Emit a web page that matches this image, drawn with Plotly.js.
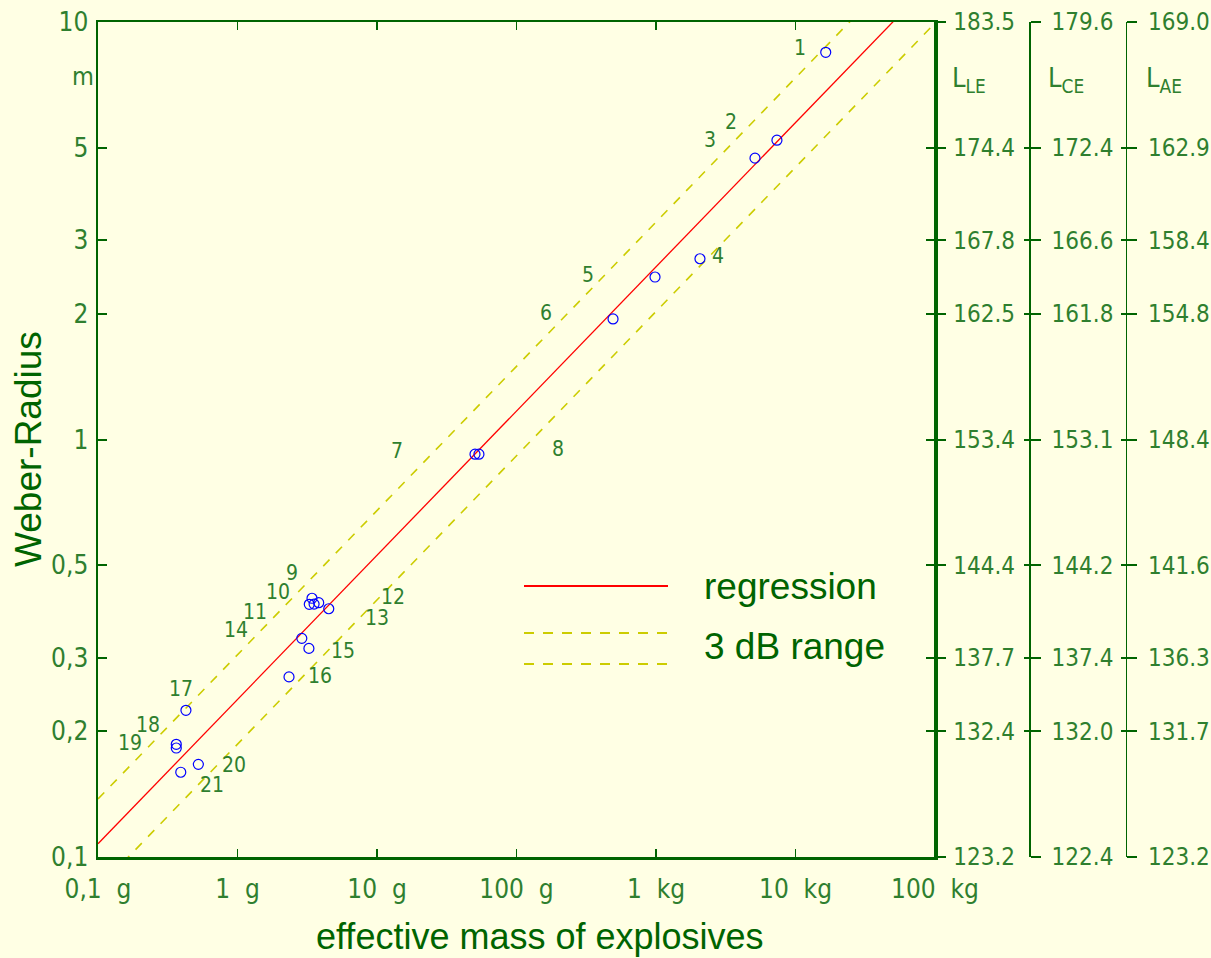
<!DOCTYPE html>
<html>
<head>
<meta charset="utf-8">
<script src="https://cdn.plot.ly/plotly-3.0.1.min.js"></script>
<style>
  html, body { margin: 0; padding: 0; background: #ffffe4; }
  #chart { width: 1211px; height: 958px; }
</style>
</head>
<body>
<div id="chart"></div>
<script>
// ---- data ----
const massTicks = [0.1, 1, 10, 100, 1000, 10000, 100000];
const massTickText = ['0,1\u00a0\u00a0g', '1\u00a0\u00a0g', '10\u00a0\u00a0g', '100\u00a0\u00a0g', '1\u00a0\u00a0kg', '10\u00a0\u00a0kg', '100\u00a0\u00a0kg'];
const radiusTicks = [0.1, 0.2, 0.3, 0.5, 1, 2, 3, 5, 10];
const radiusTickText = ['0,1', '0,2', '0,3', '0,5', '1', '2', '3', '5', '10'];
const levelLE = ['123.2', '132.4', '137.7', '144.4', '153.4', '162.5', '167.8', '174.4', '183.5'];
const levelCE = ['122.4', '132.0', '137.4', '144.2', '153.1', '161.8', '166.6', '172.4', '179.6'];
const levelAE = ['123.2', '131.7', '136.3', '141.6', '148.4', '154.8', '158.4', '162.9', '169.0'];

// measured events (mass in g, Weber radius in m)
const eventMass   = [16470, 7360, 5125, 2066, 984, 492, 50.4, 53.8,
                     3.42, 3.27, 3.54, 3.82, 4.51, 2.89, 3.25, 2.34,
                     0.427, 0.364, 0.364, 0.524, 0.392];
const eventRadius = [8.46, 5.21, 4.72, 2.71, 2.45, 1.944, 0.922, 0.922,
                     0.4166, 0.403, 0.4034, 0.4065, 0.3932, 0.334, 0.316, 0.270,
                     0.2246, 0.1862, 0.1824, 0.1667, 0.1596];

// event numbers and where they are written
const labelText   = ['1','2','3','4','5','6','7','8','9','10','11','12','13','14','15','16','17','18','19','20','21'];
const labelMass   = [10770, 3450, 2438, 2782, 325.5, 162.8, 13.9, 198.3, 2.46, 1.95, 1.335, 13.02, 10.0, 0.975, 5.71, 3.90, 0.3936, 0.2283, 0.1696, 0.944, 0.656];
const labelRadius = [8.57, 5.70, 5.16, 2.72, 2.45, 1.987, 0.928, 0.938, 0.4737, 0.4266, 0.382, 0.415, 0.3696, 0.346, 0.308, 0.2684, 0.2498, 0.2048, 0.1854, 0.1643, 0.1471];

// regression line and 3 dB range (end values)
const lineMass      = [0.1, 100000];
const regression    = [0.1076, 12.72];
const rangeUpper    = [0.1377, 16.28];
const rangeLower    = [0.0841, 9.94];

// ---- styles ----
const BG = '#ffffe4';
const DARK = '#006400';
const TICKC = '#2f7f2f';
const NARROW = "'Liberation Sans Narrow', 'DejaVu Sans Condensed', 'Arial Narrow', sans-serif";
const SANS = "'Liberation Sans', Arial, sans-serif";

const plotW = 837, L = 98, R = 60, W = 1211;
const paperW = W - L - R;
const xEnd = plotW / paperW;
const posCE = (1029.3 - L) / paperW;
const posAE = (1125.7 - L) / paperW;

const traces = [
  { x: lineMass, y: regression, mode: 'lines', line: { color: '#ff0000', width: 1.3 }, hoverinfo: 'skip', showlegend: false },
  { x: lineMass, y: rangeUpper, mode: 'lines', line: { color: '#cccc00', width: 1.6, dash: '9px,9px' }, hoverinfo: 'skip', showlegend: false },
  { x: lineMass, y: rangeLower, mode: 'lines', line: { color: '#cccc00', width: 1.6, dash: '9px,9px' }, hoverinfo: 'skip', showlegend: false },
  { x: eventMass, y: eventRadius, mode: 'markers', marker: { symbol: 'circle-open', size: 10, color: '#0000ff', line: { width: 1.2, color: '#0000ff' } }, showlegend: false },
  { x: labelMass, y: labelRadius, mode: 'text', text: labelText, textposition: 'middle center', textfont: { family: NARROW, size: 21, color: TICKC }, cliponaxis: false, hoverinfo: 'skip', showlegend: false }
];
// anchor traces for the level axes
['y2', 'y3', 'y4', 'y5', 'y6'].forEach(function (ya) {
  traces.push({ x: [massTicks[0]], y: [radiusTicks[0]], yaxis: ya, mode: 'markers', marker: { opacity: 0, size: 1 }, hoverinfo: 'skip', showlegend: false });
});

const yr = [-1, 1];
function levelAxis(pos, text, ticks, len, lw, showLabels, standoff) {
  return {
    type: 'log', range: yr, autorange: false, overlaying: 'y', anchor: 'free', side: 'right', position: pos,
    showgrid: false, zeroline: false, showline: true, linecolor: DARK, linewidth: lw,
    tickmode: 'array', tickvals: radiusTicks, ticktext: text, ticks: ticks, ticklen: len, tickwidth: 2, tickcolor: DARK,
    showticklabels: showLabels, ticklabelstandoff: standoff,
    tickfont: { family: NARROW, size: 24, color: TICKC }
  };
}

const layout = {
  width: W, height: 958,
  paper_bgcolor: BG, plot_bgcolor: BG,
  margin: { l: L, r: R, t: 22, b: 101 },
  showlegend: false,
  xaxis: {
    type: 'log', range: [-1, 5], autorange: false, domain: [0, xEnd],
    showgrid: false, zeroline: false, showline: true, linecolor: DARK, linewidth: 2.5, mirror: 'ticks',
    tickmode: 'array', tickvals: massTicks, ticktext: massTickText,
    ticks: 'inside', ticklen: 8, tickwidth: 1.5, tickcolor: DARK, ticklabelstandoff: 7,
    tickfont: { family: NARROW, size: 26, color: TICKC }
  },
  yaxis: {
    type: 'log', range: yr, autorange: false,
    showgrid: false, zeroline: false, showline: true, linecolor: DARK, linewidth: 2.5, mirror: 'ticks',
    tickmode: 'array', tickvals: radiusTicks, ticktext: radiusTickText,
    ticks: 'inside', ticklen: 9, tickwidth: 2, tickcolor: DARK, ticklabelstandoff: 2,
    tickfont: { family: NARROW, size: 26, color: TICKC }
  },
  yaxis2: levelAxis(xEnd, levelLE, 'outside', 9, 2.5, true, 3),
  yaxis3: levelAxis(posCE, levelCE, 'outside', 10, 1.5, true, 6),
  yaxis4: levelAxis(posAE, levelAE, 'outside', 10, 1.5, true, 6),
  yaxis5: levelAxis(posCE, levelCE, 'inside', 5, 1.5, false, 0),
  yaxis6: levelAxis(posAE, levelAE, 'inside', 5, 1.5, false, 0),
  shapes: [
    { type: 'line', xref: 'paper', yref: 'paper', x0: (524 - L) / paperW, x1: (668 - L) / paperW, y0: (857 - 586) / 835, y1: (857 - 586) / 835, line: { color: '#ff0000', width: 2 } },
    { type: 'line', xref: 'paper', yref: 'paper', x0: (524 - L) / paperW, x1: (668 - L) / paperW, y0: (857 - 633) / 835, y1: (857 - 633) / 835, line: { color: '#cccc00', width: 2, dash: '10px,9px' } },
    { type: 'line', xref: 'paper', yref: 'paper', x0: (524 - L) / paperW, x1: (668 - L) / paperW, y0: (857 - 664) / 835, y1: (857 - 664) / 835, line: { color: '#cccc00', width: 2, dash: '10px,9px' } }
  ],
  annotations: [
    { text: 'Weber-Radius', xref: 'paper', yref: 'paper', x: (28 - L) / paperW, y: (857 - 449) / 835, textangle: -90, showarrow: false, xanchor: 'center', yanchor: 'middle', font: { family: SANS, size: 37, color: DARK } },
    { text: 'effective mass of explosives', xref: 'paper', yref: 'paper', x: (540 - L) / paperW, y: (857 - 936) / 835, showarrow: false, xanchor: 'center', yanchor: 'middle', font: { family: SANS, size: 36, color: DARK } },
    { text: 'regression', xref: 'paper', yref: 'paper', x: (702 - L) / paperW, y: (857 - 586) / 835, showarrow: false, xanchor: 'left', yanchor: 'middle', font: { family: SANS, size: 37, color: DARK } },
    { text: '3 dB range', xref: 'paper', yref: 'paper', x: (702 - L) / paperW, y: (857 - 646) / 835, showarrow: false, xanchor: 'left', yanchor: 'middle', font: { family: SANS, size: 37, color: DARK } },
    { text: 'm', xref: 'paper', yref: 'paper', x: (83 - L) / paperW, y: (857 - 76) / 835, showarrow: false, xanchor: 'center', yanchor: 'middle', font: { family: NARROW, size: 25, color: TICKC } },
    { text: 'L<sub>LE</sub>', xref: 'paper', yref: 'paper', x: (950 - L) / paperW, y: (857 - 80) / 835, showarrow: false, xanchor: 'left', yanchor: 'middle', font: { family: NARROW, size: 27, color: TICKC } },
    { text: 'L<sub>CE</sub>', xref: 'paper', yref: 'paper', x: (1046 - L) / paperW, y: (857 - 80) / 835, showarrow: false, xanchor: 'left', yanchor: 'middle', font: { family: NARROW, size: 27, color: TICKC } },
    { text: 'L<sub>AE</sub>', xref: 'paper', yref: 'paper', x: (1144 - L) / paperW, y: (857 - 80) / 835, showarrow: false, xanchor: 'left', yanchor: 'middle', font: { family: NARROW, size: 27, color: TICKC } }
  ]
};

Plotly.newPlot('chart', traces, layout, { displayModeBar: false, staticPlot: true });
</script>
</body>
</html>
